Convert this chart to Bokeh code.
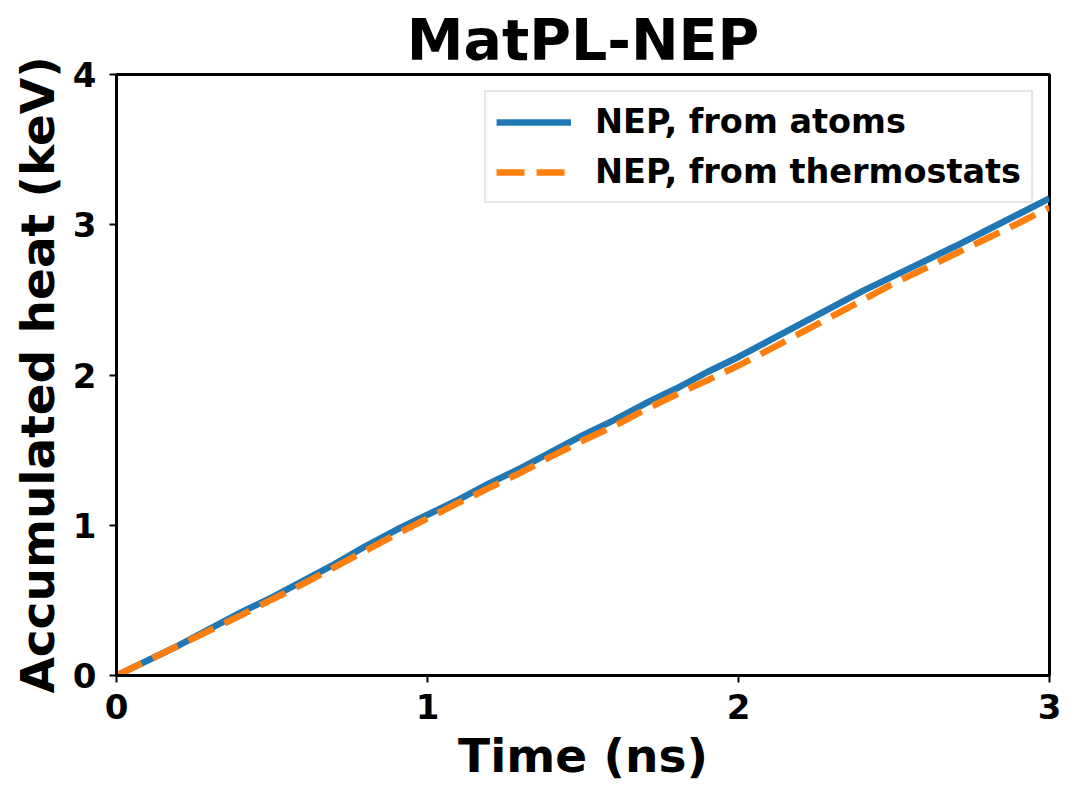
from bokeh.plotting import figure
from bokeh.models import Range1d, FixedTicker, Legend, LegendItem
from bokeh.embed import file_html
from bokeh.resources import INLINE

time_ns = [0.0, 0.1, 0.2, 0.3, 0.4, 0.5, 0.6, 0.7, 0.8, 0.9, 1.0,
           1.1, 1.2, 1.3, 1.4, 1.5, 1.6, 1.7, 1.8, 1.9, 2.0,
           2.1, 2.2, 2.3, 2.4, 2.5, 2.6, 2.7, 2.8, 2.9, 3.0]
heat_atoms = [0.00, 0.10, 0.20, 0.31, 0.42, 0.52, 0.63, 0.74, 0.86, 0.97, 1.07,
              1.17, 1.28, 1.38, 1.49, 1.60, 1.70, 1.81, 1.91, 2.02, 2.12,
              2.23, 2.34, 2.45, 2.56, 2.66, 2.76, 2.86, 2.965, 3.07, 3.175]
heat_thermo = [0.00, 0.10, 0.20, 0.30, 0.40, 0.506, 0.61, 0.72, 0.83, 0.94, 1.045,
               1.15, 1.25, 1.35, 1.46, 1.564, 1.66, 1.77, 1.87, 1.965, 2.063,
               2.17, 2.28, 2.39, 2.50, 2.61, 2.71, 2.81, 2.91, 3.01, 3.115]
x_ticks = [0, 1, 2, 3]
y_ticks = [0, 1, 2, 3, 4]
label_atoms = "NEP, from atoms"
label_thermo = "NEP, from thermostats"

FONT = "DejaVu Sans"

p = figure(width=1064, height=786, output_backend="svg", toolbar_location=None,
           x_range=Range1d(0, 3), y_range=Range1d(0, 4),
           min_border_left=116, min_border_right=15, min_border_top=74, min_border_bottom=111)

p.title.text = "MatPL-NEP"
p.title.align = "center"
p.title.text_font = FONT
p.title.text_font_style = "bold"
p.title.text_font_size = "57px"
p.title.text_color = "black"
p.title.standoff = 3

p.grid.visible = False
p.outline_line_color = "black"
p.outline_line_width = 3

for ax in (p.xaxis[0], p.yaxis[0]):
    ax.axis_line_width = 3
    ax.axis_line_color = "black"
    ax.major_tick_line_width = 2
    ax.major_tick_out = 7
    ax.major_tick_in = 0
    ax.minor_tick_line_color = None
    ax.major_label_text_font = FONT
    ax.major_label_text_font_style = "bold"
    ax.major_label_text_font_size = "34px"
    ax.major_label_text_color = "black"
    ax.axis_label_text_font = FONT
    ax.axis_label_text_font_style = "bold"
    ax.axis_label_text_font_size = "47px"
    ax.axis_label_text_color = "black"

p.xaxis.ticker = FixedTicker(ticks=x_ticks)
p.yaxis.ticker = FixedTicker(ticks=y_ticks)
p.xaxis.axis_label = "Time (ns)"
p.yaxis.axis_label = "Accumulated heat (keV)"
p.xaxis.major_label_standoff = 11
p.yaxis.major_label_standoff = 13
p.xaxis.axis_label_standoff = 6
p.yaxis.axis_label_standoff = 5

r1 = p.line(time_ns, heat_atoms, line_color="#1f77b4", line_width=6.5)
r2 = p.line(time_ns, heat_thermo, line_color="#ff7f0e", line_width=6.5, line_dash="28 12")

legend = Legend(items=[LegendItem(label=label_atoms, renderers=[r1]),
                       LegendItem(label=label_thermo, renderers=[r2])],
                location="top_right")
legend.label_text_font = FONT
legend.label_text_font_style = "bold"
legend.label_text_font_size = "33.5px"
legend.label_text_color = "black"
legend.glyph_width = 75
legend.glyph_height = 38
legend.label_height = 38
legend.label_standoff = 24
legend.padding = 10
legend.spacing = 11
legend.margin = 16
legend.border_line_color = "#cccccc"
legend.border_line_width = 2
legend.background_fill_alpha = 0.8
p.add_layout(legend)

open("out.html", "w").write(file_html(p, INLINE))
